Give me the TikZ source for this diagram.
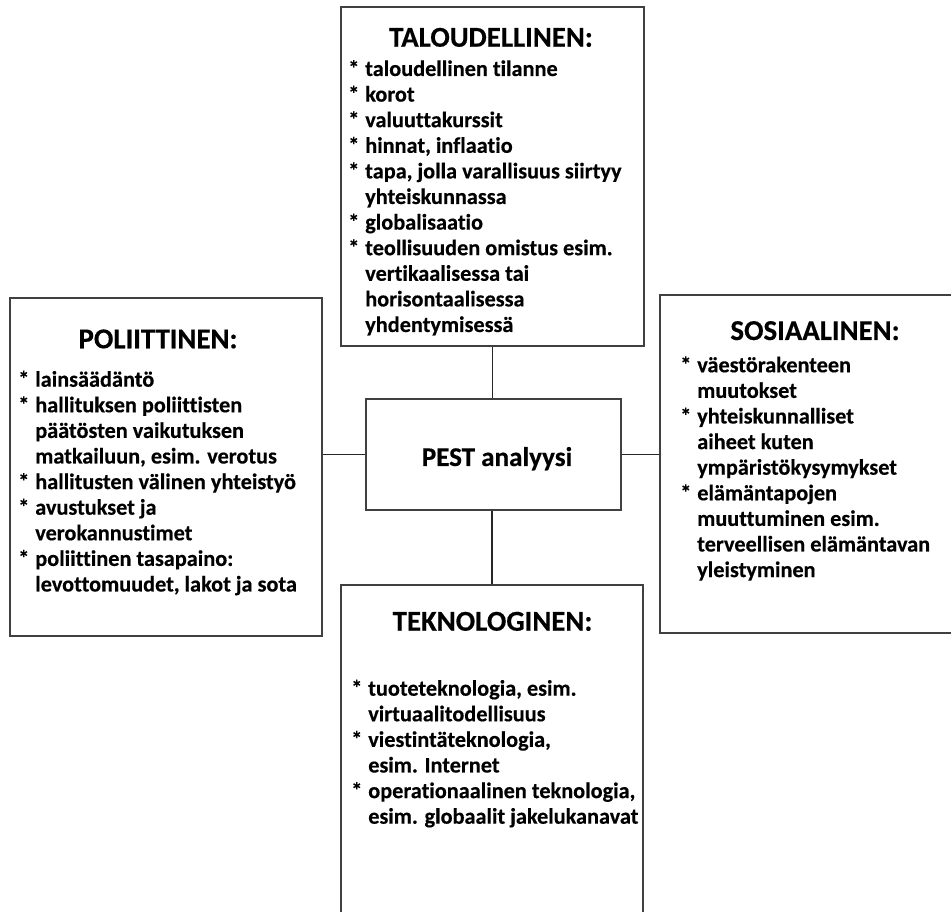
\documentclass[tikz,border=0pt]{standalone}
\usepackage{fontspec}
\setmainfont{Carlito}[Ligatures=NoCommon,BoldFeatures={FakeBold=0.4}]
\newcommand{\itm}[1]{\par\hangindent=12.75pt\hangafter=1\noindent\makebox[12.75pt][l]{*}#1}
\newcommand{\bodytext}[1]{\parbox[t]{300pt}{\fontsize{16.7pt}{19.2pt}\selectfont\bfseries\parindent=0pt\parskip=0pt #1}}
\begin{document}
\begin{tikzpicture}[x=0.75pt,y=-0.75pt,
  pbox/.style={draw=black!75,line width=1pt,rectangle,inner sep=0pt},
  conn/.style={draw=black!85,line width=0.8pt},
  ttl/.style={anchor=base,inner sep=0pt,font=\fontsize{21.6pt}{26pt}\selectfont\bfseries},
  body/.style={anchor=base west,inner sep=0pt}]
\useasboundingbox (0,0) rectangle (951,912);
\clip (0,0) rectangle (951,912);
% boxes
\node[pbox,minimum width=227.25pt,minimum height=254.25pt] (top) at (492.5,176.5) {};
\node[pbox,minimum width=234pt,minimum height=253.5pt] (left) at (166,467) {};
\node[pbox,minimum width=191.25pt,minimum height=83.25pt] (pest) at (493.5,454.5) {};
\node[pbox,minimum width=225pt,minimum height=253.5pt] (right) at (810,464) {};
\node[pbox,minimum width=226.5pt,minimum height=251.25pt] (bottom) at (492,752.5) {};
% connectors
\draw[conn] (top.south) -- (top.south |- pest.north);
\draw[conn] (bottom.north) -- (bottom.north |- pest.south);
\draw[conn] (pest.west) -- (pest.west -| left.east);
\draw[conn] (pest.east) -- (pest.east -| right.west);
% center text
\node[anchor=base,inner sep=0pt,font=\fontsize{20.3pt}{25pt}\selectfont\bfseries] (pesttext) at (497,466) {PEST analyysi};
% titles
\node[ttl] (toptitle) at (491,46.7) {TALOUDELLINEN:};
\node[ttl] (lefttitle) at (158,348.3) {POLIITTINEN:};
\node[ttl] (righttitle) at (815,340) {SOSIAALINEN:};
\node[ttl] (bottomtitle) at (492.5,630.7) {TEKNOLOGINEN:};
% bodies
\node[body] (topbody) at (348,76) {\bodytext{%
\itm{taloudellinen tilanne}
\itm{korot}
\itm{valuuttakurssit}
\itm{hinnat, inflaatio}
\itm{tapa, jolla varallisuus siirtyy\\yhteiskunnassa}
\itm{globalisaatio}
\itm{teollisuuden omistus esim.\\vertikaalisessa tai\\horisontaalisessa\\yhdentymisessä}}};
\node[body] (leftbody) at (18,386.7) {\bodytext{%
\itm{lainsäädäntö}
\itm{hallituksen poliittisten\\päätösten vaikutuksen\\matkailuun, esim. verotus}
\itm{hallitusten välinen yhteistyö}
\itm{avustukset ja\\verokannustimet}
\itm{poliittinen tasapaino:\\levottomuudet, lakot ja sota}}};
\node[body] (rightbody) at (680,372.3) {\bodytext{%
\itm{väestörakenteen\\muutokset}
\itm{yhteiskunnalliset\\aiheet kuten\\ympäristökysymykset}
\itm{elämäntapojen\\muuttuminen esim.\\terveellisen elämäntavan\\yleistyminen}}};
\node[body] (bottombody) at (351,695.7) {\bodytext{%
\itm{tuoteteknologia, esim.\\virtuaalitodellisuus}
\itm{viestintäteknologia,\\esim. Internet}
\itm{operationaalinen teknologia,\\esim. globaalit jakelukanavat}}};
\end{tikzpicture}
\end{document}
